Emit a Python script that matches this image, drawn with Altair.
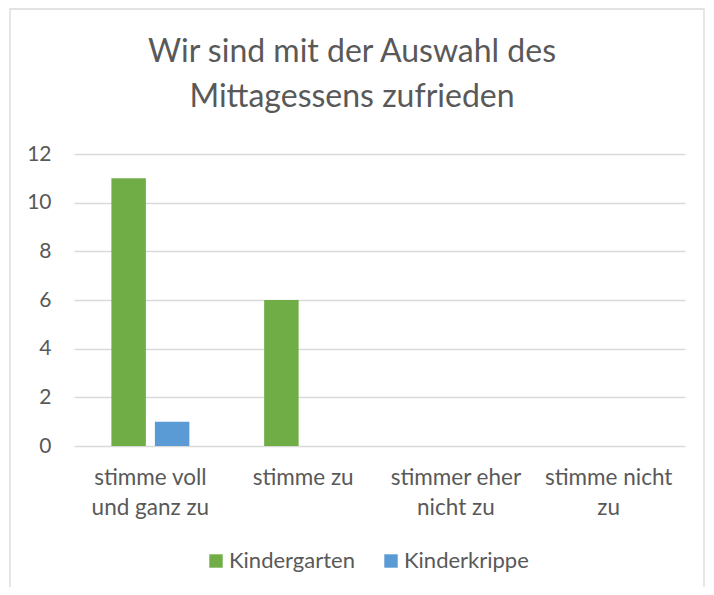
import altair as alt
import pandas as pd

categories = ["stimme voll und ganz zu", "stimme zu", "stimmer eher nicht zu", "stimme nicht zu"]
category_lines = [["stimme voll", "und ganz zu"], ["stimme zu"], ["stimmer eher", "nicht zu"], ["stimme nicht", "zu"]]
series = ["Kindergarten", "Kinderkrippe"]
kindergarten = [11, 6, 0, 0]
kinderkrippe = [1, 0, 0, 0]
colors = ["#70AD47", "#5B9BD5"]
y_ticks = [0, 2, 4, 6, 8, 10, 12]
title_lines = ["Wir sind mit der Auswahl des", "Mittagessens zufrieden"]

FONT = "Lato"
TEXT = "#595959"
GRID = "#D9D9D9"

rows = []
for c, a, b in zip(categories, kindergarten, kinderkrippe):
    rows.append({"Kategorie": c, "Gruppe": series[0], "Anzahl": a})
    rows.append({"Kategorie": c, "Gruppe": series[1], "Anzahl": b})
df = pd.DataFrame(rows)

label_expr = ""
for c, lines in zip(categories, category_lines):
    label_expr += f"datum.value == {c!r} ? {lines!r} : "
label_expr += "datum.label"

bars = alt.Chart(df).mark_bar().encode(
    x=alt.X(
        "Kategorie:N",
        sort=categories,
        scale=alt.Scale(paddingInner=0, paddingOuter=0),
        axis=alt.Axis(
            title=None, labelAngle=0, labelExpr=label_expr, domain=False, ticks=False,
            labelPadding=20, labelFontSize=22.5, labelColor=TEXT, labelFont=FONT,
            labelLineHeight=30, labelBaseline="top",
        ),
    ),
    xOffset=alt.XOffset(
        "Gruppe:N", sort=series, scale=alt.Scale(paddingInner=0.207, paddingOuter=0.86)
    ),
    y=alt.Y(
        "Anzahl:Q",
        scale=alt.Scale(domain=[0, 12], nice=False),
        axis=alt.Axis(
            values=y_ticks, title=None, domain=False, ticks=False, grid=True,
            gridColor=GRID, gridWidth=1.3, labelPadding=23, labelFontSize=21,
            labelColor=TEXT, labelFont=FONT,
        ),
    ),
    color=alt.Color(
        "Gruppe:N",
        sort=series,
        scale=alt.Scale(domain=series, range=colors),
        legend=alt.Legend(
            title=None, orient="none", legendX=131, legendY=396, direction="horizontal",
            symbolType="square", symbolSize=180, symbolStrokeWidth=0,
            labelFontSize=22, labelColor=TEXT, labelFont=FONT, columnPadding=25,
            labelOffset=2,
        ),
    ),
)

border = alt.Chart(pd.DataFrame({"k": [0]})).mark_rect(
    fill="transparent", stroke=GRID, strokeWidth=1.3
).encode(
    x=alt.value(-64), x2=alt.value(630), y=alt.value(-145), y2=alt.value(470)
)

title = alt.Chart(pd.DataFrame({"t": ["\n".join(title_lines)]})).mark_text(
    font=FONT, fontSize=32, color=TEXT, align="center", baseline="alphabetic",
    lineBreak="\n", lineHeight=45,
).encode(text="t:N", x=alt.value(278), y=alt.value(-92))

chart = alt.layer(border, bars, title).properties(
    width=611,
    height=292,
    autosize=alt.AutoSizeParams(type="none"),
    padding={"left": 66, "top": 146, "right": 21, "bottom": 141},
).configure_view(stroke=None)

chart.save("out.html", embed_options={"renderer": "svg", "actions": False})
